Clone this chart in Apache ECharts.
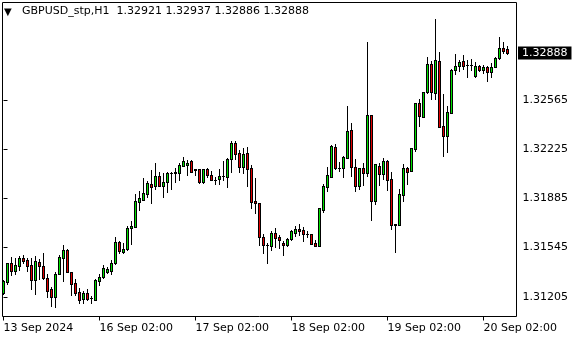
<!DOCTYPE html>
<html>
<head>
<meta charset="utf-8">
<script src="https://cdn.jsdelivr.net/npm/echarts@6/dist/echarts.min.js"></script>
<style>
html,body{margin:0;padding:0;background:#fff;}
#chart{width:580px;height:340px;}
</style>
</head>
<body>
<div id="chart"></div>
<script>
const symbolTitle = "GBPUSD_stp,H1";
const opens = [1.31233,1.31309,1.31436,1.31385,1.31420,1.31474,1.31457,1.31422,1.31323,1.31443,
1.31415,1.31333,1.31257,1.31206,1.31360,1.31476,1.31529,1.31378,1.31298,1.31236,
1.31190,1.31231,1.31195,1.31181,1.31316,1.31340,1.31378,1.31385,1.31436,1.31584,
1.31513,1.31536,1.31678,1.31687,1.31862,1.31876,1.31917,1.31984,1.31969,1.32038,
1.31973,1.31996,1.32062,1.32064,1.32058,1.32111,1.32118,1.32143,1.32088,1.32088,
1.31998,1.32088,1.32047,1.32014,1.32017,1.32038,1.32035,1.32155,1.32268,1.32199,
1.32100,1.32199,1.32093,1.31867,1.31853,1.31619,1.31566,1.31559,1.31644,1.31619,
1.31578,1.31566,1.31603,1.31647,1.31674,1.31667,1.31641,1.31637,1.31577,1.31559,
1.31805,1.31966,1.32033,1.32240,1.32097,1.32095,1.32167,1.32358,1.32100,1.31968,
1.32093,1.32063,1.32459,1.31864,1.32107,1.32052,1.32141,1.32017,1.31706,1.31703,
1.31910,1.32093,1.32076,1.32229,1.32542,1.32449,1.32618,1.32814,1.32611,1.32832,
1.32385,1.32318,1.32477,1.32772,1.32798,1.32832,1.32806,1.32809,1.32729,1.32798,
1.32774,1.32791,1.32756,1.32791,1.32853,1.32922,1.32921];
const closes = [1.31312,1.31436,1.31385,1.31422,1.31474,1.31454,1.31420,1.31323,1.31450,1.31420,
1.31337,1.31247,1.31204,1.31360,1.31481,1.31527,1.31378,1.31295,1.31233,1.31185,
1.31231,1.31192,1.31194,1.31319,1.31342,1.31404,1.31395,1.31440,1.31584,1.31520,
1.31534,1.31683,1.31694,1.31867,1.31888,1.31922,1.31993,1.31966,1.32040,1.31973,
1.31998,1.32060,1.32063,1.32065,1.32118,1.32143,1.32132,1.32069,1.32079,1.31998,
1.32088,1.32047,1.32012,1.32015,1.32038,1.32039,1.32155,1.32268,1.32192,1.32100,
1.32192,1.32086,1.31862,1.31851,1.31621,1.31566,1.31565,1.31644,1.31614,1.31596,
1.31566,1.31605,1.31660,1.31674,1.31660,1.31641,1.31640,1.31572,1.31556,1.31819,
1.31971,1.32045,1.32247,1.32097,1.32096,1.32169,1.32351,1.32099,1.31969,1.32093,
1.32064,1.32459,1.31864,1.32121,1.32052,1.32141,1.32012,1.31699,1.31699,1.31915,
1.32093,1.32069,1.32231,1.32542,1.32452,1.32618,1.32814,1.32618,1.32839,1.32380,
1.32318,1.32480,1.32772,1.32798,1.32826,1.32802,1.32807,1.32808,1.32798,1.32774,
1.32793,1.32756,1.32791,1.32853,1.32922,1.32906,1.32888];
const lows = [1.31224,1.31293,1.31358,1.31362,1.31392,1.31440,1.31385,1.31261,1.31226,1.31330,
1.31330,1.31206,1.31144,1.31132,1.31360,1.31316,1.31376,1.31215,1.31219,1.31164,
1.31160,1.31183,1.31164,1.31180,1.31288,1.31338,1.31371,1.31364,1.31434,1.31510,
1.31510,1.31529,1.31572,1.31685,1.31807,1.31874,1.31897,1.31855,1.31952,1.31971,
1.31897,1.31931,1.31952,1.31998,1.32012,1.32110,1.32047,1.32067,1.32047,1.31989,
1.31993,1.32035,1.32010,1.31986,1.31984,1.32012,1.31966,1.32069,1.32155,1.32069,
1.32058,1.31973,1.31821,1.31782,1.31566,1.31510,1.31440,1.31531,1.31547,1.31545,
1.31497,1.31556,1.31598,1.31626,1.31630,1.31593,1.31616,1.31570,1.31554,1.31556,
1.31793,1.31933,1.32030,1.32088,1.32074,1.32033,1.32165,1.32042,1.31933,1.31951,
1.31975,1.32042,1.31739,1.31846,1.31976,1.32017,1.31943,1.31671,1.31517,1.31701,
1.31869,1.31986,1.32074,1.32215,1.32385,1.32445,1.32615,1.32572,1.32574,1.32380,
1.32180,1.32206,1.32476,1.32745,1.32765,1.32779,1.32722,1.32772,1.32727,1.32765,
1.32749,1.32698,1.32726,1.32790,1.32848,1.32892,1.32886];
const highs = [1.31321,1.31440,1.31481,1.31476,1.31490,1.31494,1.31474,1.31474,1.31488,1.31464,
1.31506,1.31364,1.31271,1.31374,1.31494,1.31561,1.31536,1.31378,1.31326,1.31264,
1.31247,1.31257,1.31209,1.31326,1.31362,1.31425,1.31413,1.31461,1.31619,1.31593,
1.31577,1.31694,1.31729,1.31915,1.31936,1.32026,1.32003,1.32081,1.32132,1.32067,
1.32058,1.32067,1.32069,1.32095,1.32127,1.32171,1.32148,1.32148,1.32090,1.32090,
1.32090,1.32097,1.32076,1.32033,1.32088,1.32145,1.32164,1.32282,1.32282,1.32220,
1.32233,1.32240,1.32116,1.32024,1.31853,1.31639,1.31575,1.31658,1.31679,1.31630,
1.31589,1.31614,1.31667,1.31694,1.31706,1.31685,1.31658,1.31639,1.31596,1.31819,
1.31986,1.32104,1.32254,1.32261,1.32137,1.32178,1.32524,1.32406,1.32155,1.32095,
1.32128,1.32968,1.32461,1.32123,1.32127,1.32164,1.32150,1.32069,1.31708,1.31948,
1.32123,1.32104,1.32235,1.32546,1.32574,1.32622,1.32862,1.32834,1.33125,1.32897,
1.32604,1.32524,1.32779,1.32883,1.32841,1.32874,1.32839,1.32846,1.32828,1.32805,
1.32807,1.32802,1.32821,1.32860,1.32998,1.32964,1.32937];
const timeTickIndex = [0, 24, 48, 72, 96, 120];
const timeTickLabels = ["13 Sep 2024", "16 Sep 02:00", "17 Sep 02:00", "18 Sep 02:00", "19 Sep 02:00", "20 Sep 02:00"];
const priceTicks = [1.31205, 1.31545, 1.31885, 1.32225, 1.32565];

const BULL = '#00e000';
const BEAR = '#e00000';
const candles = opens.map((o, i) => [i, o, closes[i], lows[i], highs[i]]);
const last = opens.length - 1;
const fmt = v => v.toFixed(5);
const titleText = symbolTitle + "  " + fmt(opens[last]) + " " + fmt(highs[last]) + " " + fmt(lows[last]) + " " + fmt(closes[last]);
const FONT = "DejaVu Sans";

function renderCandle(params, api) {
  const i = api.value(0), o = api.value(1), c = api.value(2), l = api.value(3), h = api.value(4);
  const pO = api.coord([i, o]), pC = api.coord([i, c]), pL = api.coord([i, l]), pH = api.coord([i, h]);
  const xc = Math.floor(pO[0]) + 0.5;
  const yTop = Math.round(Math.min(pO[1], pC[1]));
  const yBot = Math.round(Math.max(pO[1], pC[1]));
  const yH = Math.round(pH[1]), yL = Math.round(pL[1]);
  const children = [
    {type: 'rect', shape: {x: xc - 0.5, y: yH, width: 1, height: yL - yH + 1}, style: {fill: '#000'}},
    {type: 'rect', shape: {x: xc - 1.5, y: yTop, width: 3, height: yBot - yTop + 1}, style: {fill: '#000'}}
  ];
  if (yBot - yTop > 1) {
    children.push({type: 'rect', shape: {x: xc - 0.5, y: yTop + 1, width: 1, height: yBot - yTop - 1},
      style: {fill: c >= o ? BULL : BEAR}});
  }
  return {type: 'group', children};
}

const chart = echarts.init(document.getElementById('chart'), null, {renderer: 'canvas'});
chart.setOption({
  animation: false,
  backgroundColor: '#fff',
  grid: {left: 2.5, top: 2.5, right: 63.5, bottom: 23.5, show: true, borderColor: '#000', borderWidth: 1, backgroundColor: '#fff'},
  xAxis: {
    type: 'value', min: -0.25, max: 128.25,
    axisLine: {show: false},
    splitLine: {show: false},
    axisTick: {show: true, customValues: timeTickIndex, length: 4, lineStyle: {color: '#000', width: 1}},
    axisLabel: {
      customValues: timeTickIndex, align: 'left', margin: 6,
      color: '#000', fontFamily: FONT, fontSize: 11,
      formatter: v => timeTickLabels[timeTickIndex.indexOf(Math.round(v))] || ''
    }
  },
  yAxis: {
    type: 'value', position: 'right', min: 1.31069, max: 1.33239, scale: true,
    axisLine: {show: false},
    splitLine: {show: false},
    axisTick: {show: true, customValues: priceTicks, length: 4, lineStyle: {color: '#000', width: 1}},
    axisLabel: {
      customValues: priceTicks, margin: 6,
      color: '#000', fontFamily: FONT, fontSize: 11,
      formatter: v => fmt(v)
    }
  },
  series: [{
    type: 'custom',
    data: candles,
    encode: {x: 0, y: [1, 2, 3, 4]},
    renderItem: renderCandle,
    silent: true
  }]
});

const priceY = chart.convertToPixel({yAxisIndex: 0}, closes[last]);
const plotRight = chart.convertToPixel({xAxisIndex: 0}, 128.25);
chart.setOption({
  graphic: [
    {type: 'text', left: 4, top: 7, style: {text: '\u25BC', fontFamily: FONT, fontSize: 10, fill: '#000'}},
    {type: 'text', left: 22, top: 6, style: {text: titleText, fontFamily: FONT, fontSize: 11, fill: '#000'}},
    {type: 'text', x: Math.round(plotRight) + 1, y: Math.round(priceY),
      style: {text: fmt(closes[last]), fontFamily: FONT, fontSize: 11, fill: '#fff',
        backgroundColor: '#000', padding: [1, 4, 0, 4], lineHeight: 12, verticalAlign: 'middle', align: 'left'}}
  ]
});
</script>
</body>
</html>
